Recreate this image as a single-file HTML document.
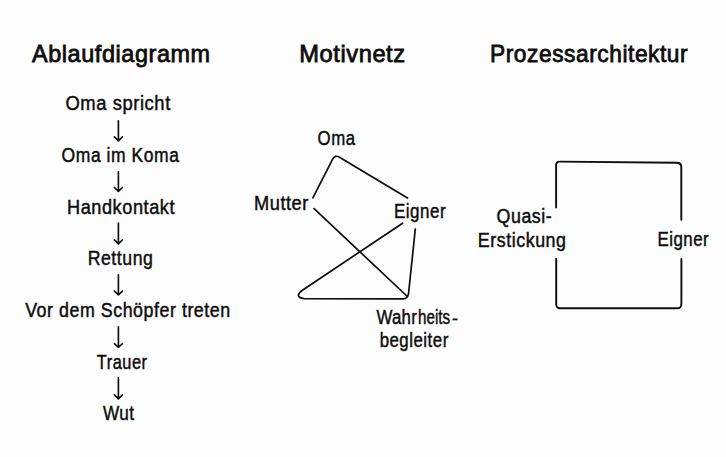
<!DOCTYPE html>
<html><head><meta charset="utf-8">
<style>
html,body{margin:0;padding:0;background:#fdfdfd;}
body{width:726px;height:457px;overflow:hidden;}
svg{display:block;}
text{font-family:"Liberation Sans",sans-serif;fill:#0d0d0d;stroke:#0d0d0d;stroke-width:0.45px;}
.ln{fill:none;stroke:#0d0d0d;stroke-width:1.7;stroke-linecap:round;stroke-linejoin:round;}
.bx{fill:none;stroke:#0d0d0d;stroke-width:1.9;stroke-linecap:round;stroke-linejoin:round;}
.ar{fill:none;stroke:#0d0d0d;stroke-width:1.65;stroke-linecap:round;stroke-linejoin:round;}
</style></head>
<body>
<svg width="726" height="457" viewBox="0 0 726 457">
<text x="31.98" y="62.00" textLength="178.75" lengthAdjust="spacingAndGlyphs" style="font-size:24px;stroke-width:0.8px;letter-spacing:0.6px">Ablaufdiagramm</text>
<text x="299.21" y="62.00" textLength="106.49" lengthAdjust="spacingAndGlyphs" style="font-size:24px;stroke-width:0.8px;letter-spacing:0.6px">Motivnetz</text>
<text x="490.05" y="62.00" textLength="198.12" lengthAdjust="spacingAndGlyphs" style="font-size:24px;stroke-width:0.8px;letter-spacing:0.6px">Prozessarchitektur</text>
<text x="65.42" y="109.80" textLength="105.41" lengthAdjust="spacingAndGlyphs" style="font-size:19.6px;stroke-width:0.45px;letter-spacing:0.6px">Oma spricht</text>
<text x="61.62" y="162.00" textLength="117.83" lengthAdjust="spacingAndGlyphs" style="font-size:19.6px;stroke-width:0.45px;letter-spacing:0.6px">Oma im Koma</text>
<text x="67.00" y="214.00" textLength="108.05" lengthAdjust="spacingAndGlyphs" style="font-size:19.6px;stroke-width:0.45px;letter-spacing:0.6px">Handkontakt</text>
<text x="87.67" y="264.60" textLength="65.75" lengthAdjust="spacingAndGlyphs" style="font-size:19.6px;stroke-width:0.45px;letter-spacing:0.6px">Rettung</text>
<text x="25.15" y="317.00" textLength="205.57" lengthAdjust="spacingAndGlyphs" style="font-size:19.6px;stroke-width:0.45px;letter-spacing:0.6px">Vor dem Schöpfer treten</text>
<text x="96.84" y="368.70" textLength="50.63" lengthAdjust="spacingAndGlyphs" style="font-size:19.6px;stroke-width:0.45px;letter-spacing:0.6px">Trauer</text>
<text x="102.88" y="420.20" textLength="31.79" lengthAdjust="spacingAndGlyphs" style="font-size:19.6px;stroke-width:0.45px;letter-spacing:0.6px">Wut</text>
<text x="317.56" y="144.80" textLength="37.97" lengthAdjust="spacingAndGlyphs" style="font-size:19.6px;stroke-width:0.45px;letter-spacing:0.6px">Oma</text>
<text x="254.00" y="209.80" textLength="54.93" lengthAdjust="spacingAndGlyphs" style="font-size:19.6px;stroke-width:0.45px;letter-spacing:0.6px">Mutter</text>
<text x="394.00" y="218.10" textLength="52.12" lengthAdjust="spacingAndGlyphs" style="font-size:19.6px;stroke-width:0.45px;letter-spacing:0.6px">Eigner</text>
<text x="376.49" y="324.30" textLength="40.60" lengthAdjust="spacingAndGlyphs" style="font-size:19.6px;stroke-width:0.45px;letter-spacing:0.3px">Wahr</text>
<text x="418.11" y="324.30" textLength="32.00" lengthAdjust="spacingAndGlyphs" style="font-size:19.6px;stroke-width:0.45px;letter-spacing:0.0px">heits</text>
<text x="379.63" y="346.50" textLength="69.18" lengthAdjust="spacingAndGlyphs" style="font-size:19.6px;stroke-width:0.45px;letter-spacing:0.6px">begleiter</text>
<text x="496.57" y="223.10" textLength="55.68" lengthAdjust="spacingAndGlyphs" style="font-size:19.6px;stroke-width:0.45px;letter-spacing:0.6px">Quasi-</text>
<text x="477.81" y="246.90" textLength="88.74" lengthAdjust="spacingAndGlyphs" style="font-size:19.6px;stroke-width:0.45px;letter-spacing:0.6px">Erstickung</text>
<text x="657.44" y="245.50" textLength="51.81" lengthAdjust="spacingAndGlyphs" style="font-size:19.6px;stroke-width:0.45px;letter-spacing:0.6px">Eigner</text><g class="ar">
<path d="M118.4 120.72V140.80M114.4 136.90L118.4 140.80L122.4 136.90"/>
<path d="M118.4 171.82V191.40M114.4 187.50L118.4 191.40L122.4 187.50"/>
<path d="M118.4 223.12V243.80M114.4 239.90L118.4 243.80L122.4 239.90"/>
<path d="M118.4 274.82V295.00M114.4 291.10L118.4 295.00L122.4 291.10"/>
<path d="M118.4 326.82V347.50M114.4 343.60L118.4 347.50L122.4 343.60"/>
<path d="M118.4 377.82V398.80M114.4 394.90L118.4 398.80L122.4 394.90"/>
</g>
<g class="ln">
<path d="M312.9 197.8L332.5 159.3Q335 154.5 339.5 157.3L407.5 198"/>
<path d="M314.1 208.7L407.4 296.5"/>
<path d="M452.6 319.4H457.5" style="stroke-width:1.8;stroke-linecap:butt"/>
<path d="M402.6 223.2L302 290.5Q294 297 304 298.6L403 298.8Q408 298.8 408.6 293L415.3 229"/>
</g>
<g class="bx">
<path d="M556.1 207.6V165.5Q556.1 161.5 560.1 161.6L676.8 162.7Q681.3 162.7 681.3 167.2V219.8"/>
<path d="M556.2 258.7V304.3Q556.2 308.3 560.2 308.3H676.6Q681.4 308.6 681.4 303.8V259"/>
</g>

</svg>
</body></html>
